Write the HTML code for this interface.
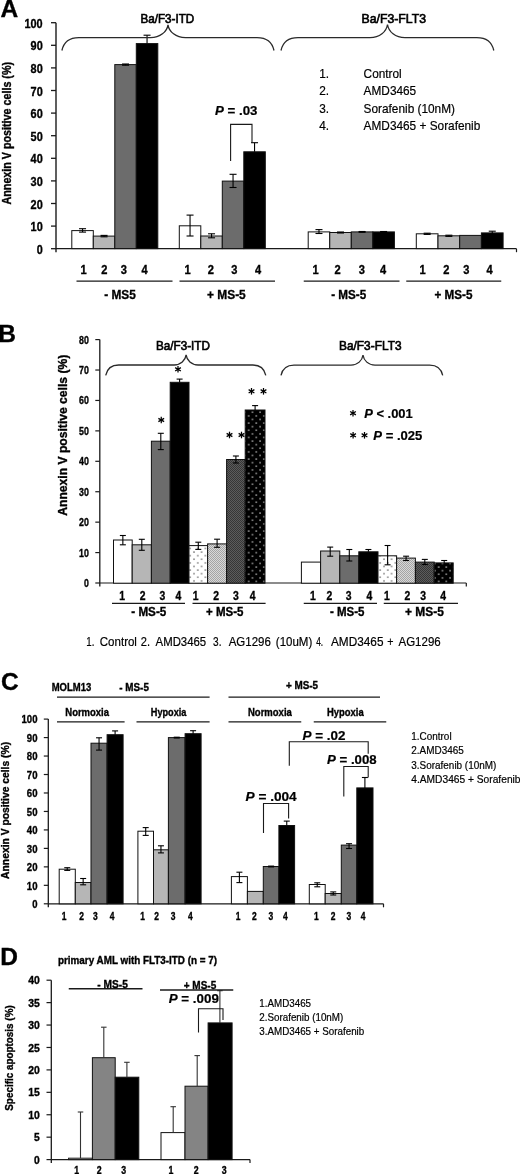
<!DOCTYPE html>
<html><head><meta charset="utf-8"><style>
html,body{margin:0;padding:0;background:#fff;}
body{width:520px;height:1174px;overflow:hidden;}
svg{display:block;font-family:"Liberation Sans", sans-serif;filter:grayscale(100%) blur(0.3px);}
</style></head><body>
<svg width="520" height="1174" viewBox="0 0 520 1174">
<defs>
<pattern id="pdot" width="7.6" height="7.2" patternUnits="userSpaceOnUse" x="189.2" y="547.5"><rect width="7.6" height="7.2" fill="#fff"/><rect x="0.2" y="0.2" width="1.6" height="1.6" fill="#8c8c8c"/><rect x="4.0" y="3.8" width="1.6" height="1.6" fill="#8c8c8c"/></pattern>
<pattern id="pfine" width="2" height="2" patternUnits="userSpaceOnUse"><rect width="2" height="2" fill="#d8d8d8"/><rect x="0" y="0" width="1" height="1" fill="#a4a4a4"/><rect x="1" y="1" width="1" height="1" fill="#a4a4a4"/></pattern>
<pattern id="pdark" width="2" height="2" patternUnits="userSpaceOnUse"><rect width="2" height="2" fill="#5c5c5c"/><rect x="0" y="0" width="1" height="1" fill="#363636"/><rect x="1" y="1" width="1" height="1" fill="#363636"/></pattern>
<pattern id="pblk" width="7.6" height="7.2" patternUnits="userSpaceOnUse" x="247.7" y="414.9"><rect width="7.6" height="7.2" fill="#000"/><rect x="0.2" y="0.2" width="1.6" height="1.6" fill="#8f8f8f"/><rect x="4.0" y="3.8" width="1.6" height="1.6" fill="#8f8f8f"/></pattern>
</defs>
<rect width="520" height="1174" fill="#fff"/>
<text x="0.50" y="17.40" font-size="24.5" font-weight="bold" text-anchor="start" fill="#000" stroke="#000" stroke-width="0.35" style="" >A</text>
<line x1="56.00" y1="22.70" x2="56.00" y2="252.20" stroke="#1a1a1a" stroke-width="1.4"/>
<line x1="51.00" y1="248.70" x2="56.00" y2="248.70" stroke="#1a1a1a" stroke-width="1.3"/>
<text x="36.64" y="253.78" font-size="13.3" font-weight="bold" text-anchor="start" textLength="6.02" lengthAdjust="spacingAndGlyphs" fill="#000" stroke="#000" stroke-width="0.35" style="" >0</text>
<line x1="51.00" y1="226.10" x2="56.00" y2="226.10" stroke="#1a1a1a" stroke-width="1.3"/>
<text x="30.57" y="231.18" font-size="13.3" font-weight="bold" text-anchor="start" textLength="12.15" lengthAdjust="spacingAndGlyphs" fill="#000" stroke="#000" stroke-width="0.35" style="" >10</text>
<line x1="51.00" y1="203.50" x2="56.00" y2="203.50" stroke="#1a1a1a" stroke-width="1.3"/>
<text x="30.57" y="208.58" font-size="13.3" font-weight="bold" text-anchor="start" textLength="12.15" lengthAdjust="spacingAndGlyphs" fill="#000" stroke="#000" stroke-width="0.35" style="" >20</text>
<line x1="51.00" y1="180.90" x2="56.00" y2="180.90" stroke="#1a1a1a" stroke-width="1.3"/>
<text x="30.57" y="185.98" font-size="13.3" font-weight="bold" text-anchor="start" textLength="12.15" lengthAdjust="spacingAndGlyphs" fill="#000" stroke="#000" stroke-width="0.35" style="" >30</text>
<line x1="51.00" y1="158.30" x2="56.00" y2="158.30" stroke="#1a1a1a" stroke-width="1.3"/>
<text x="30.57" y="163.38" font-size="13.3" font-weight="bold" text-anchor="start" textLength="12.15" lengthAdjust="spacingAndGlyphs" fill="#000" stroke="#000" stroke-width="0.35" style="" >40</text>
<line x1="51.00" y1="135.70" x2="56.00" y2="135.70" stroke="#1a1a1a" stroke-width="1.3"/>
<text x="30.57" y="140.78" font-size="13.3" font-weight="bold" text-anchor="start" textLength="12.15" lengthAdjust="spacingAndGlyphs" fill="#000" stroke="#000" stroke-width="0.35" style="" >50</text>
<line x1="51.00" y1="113.10" x2="56.00" y2="113.10" stroke="#1a1a1a" stroke-width="1.3"/>
<text x="30.57" y="118.18" font-size="13.3" font-weight="bold" text-anchor="start" textLength="12.15" lengthAdjust="spacingAndGlyphs" fill="#000" stroke="#000" stroke-width="0.35" style="" >60</text>
<line x1="51.00" y1="90.50" x2="56.00" y2="90.50" stroke="#1a1a1a" stroke-width="1.3"/>
<text x="30.57" y="95.58" font-size="13.3" font-weight="bold" text-anchor="start" textLength="12.15" lengthAdjust="spacingAndGlyphs" fill="#000" stroke="#000" stroke-width="0.35" style="" >70</text>
<line x1="51.00" y1="67.90" x2="56.00" y2="67.90" stroke="#1a1a1a" stroke-width="1.3"/>
<text x="30.57" y="72.98" font-size="13.3" font-weight="bold" text-anchor="start" textLength="12.15" lengthAdjust="spacingAndGlyphs" fill="#000" stroke="#000" stroke-width="0.35" style="" >80</text>
<line x1="51.00" y1="45.30" x2="56.00" y2="45.30" stroke="#1a1a1a" stroke-width="1.3"/>
<text x="30.57" y="50.38" font-size="13.3" font-weight="bold" text-anchor="start" textLength="12.15" lengthAdjust="spacingAndGlyphs" fill="#000" stroke="#000" stroke-width="0.35" style="" >90</text>
<line x1="51.00" y1="22.70" x2="56.00" y2="22.70" stroke="#1a1a1a" stroke-width="1.3"/>
<text x="24.51" y="27.78" font-size="13.3" font-weight="bold" text-anchor="start" textLength="18.18" lengthAdjust="spacingAndGlyphs" fill="#000" stroke="#000" stroke-width="0.35" style="" >100</text>
<text transform="translate(10.70,133.20) rotate(-90)" x="0" y="0" font-size="12.8" font-weight="bold" text-anchor="middle" textLength="142.50" lengthAdjust="spacingAndGlyphs" stroke="#000" stroke-width="0.35">Annexin V positive cells (%)</text>
<line x1="56.00" y1="248.70" x2="516.50" y2="248.70" stroke="#1a1a1a" stroke-width="1.3"/>
<line x1="516.50" y1="248.70" x2="516.50" y2="252.20" stroke="#1a1a1a" stroke-width="1.2"/>
<rect x="71.80" y="230.60" width="21.50" height="18.00" fill="#ffffff" stroke="#111" stroke-width="1.0" />
<rect x="93.30" y="236.10" width="21.50" height="12.50" fill="#b6b6b6" stroke="#111" stroke-width="1.0" />
<rect x="114.80" y="64.60" width="21.50" height="184.00" fill="#6c6c6c" stroke="#111" stroke-width="1.0" />
<rect x="136.30" y="43.60" width="21.50" height="205.00" fill="#000000" stroke="#111" stroke-width="1.0" />
<line x1="82.55" y1="228.70" x2="82.55" y2="232.10" stroke="#000" stroke-width="1.1"/>
<line x1="79.05" y1="228.70" x2="86.05" y2="228.70" stroke="#000" stroke-width="1.1"/>
<line x1="79.05" y1="232.10" x2="86.05" y2="232.10" stroke="#000" stroke-width="1.1"/>
<line x1="104.05" y1="235.40" x2="104.05" y2="236.80" stroke="#000" stroke-width="1.1"/>
<line x1="100.55" y1="235.40" x2="107.55" y2="235.40" stroke="#000" stroke-width="1.1"/>
<line x1="100.55" y1="236.80" x2="107.55" y2="236.80" stroke="#000" stroke-width="1.1"/>
<line x1="125.55" y1="64.00" x2="125.55" y2="65.20" stroke="#000" stroke-width="1.1"/>
<line x1="122.05" y1="64.00" x2="129.05" y2="64.00" stroke="#000" stroke-width="1.1"/>
<line x1="122.05" y1="65.20" x2="129.05" y2="65.20" stroke="#000" stroke-width="1.1"/>
<line x1="147.05" y1="35.20" x2="147.05" y2="43.60" stroke="#000" stroke-width="1.1"/>
<line x1="143.55" y1="35.20" x2="150.55" y2="35.20" stroke="#000" stroke-width="1.1"/>
<rect x="179.30" y="225.80" width="21.50" height="22.80" fill="#ffffff" stroke="#111" stroke-width="1.0" />
<rect x="200.80" y="236.00" width="21.50" height="12.60" fill="#b6b6b6" stroke="#111" stroke-width="1.0" />
<rect x="222.30" y="181.10" width="21.50" height="67.50" fill="#6c6c6c" stroke="#111" stroke-width="1.0" />
<rect x="243.80" y="151.80" width="21.50" height="96.80" fill="#000000" stroke="#111" stroke-width="1.0" />
<line x1="190.05" y1="215.10" x2="190.05" y2="236.00" stroke="#000" stroke-width="1.1"/>
<line x1="186.55" y1="215.10" x2="193.55" y2="215.10" stroke="#000" stroke-width="1.1"/>
<line x1="186.55" y1="236.00" x2="193.55" y2="236.00" stroke="#000" stroke-width="1.1"/>
<line x1="211.55" y1="233.80" x2="211.55" y2="237.80" stroke="#000" stroke-width="1.1"/>
<line x1="208.05" y1="233.80" x2="215.05" y2="233.80" stroke="#000" stroke-width="1.1"/>
<line x1="208.05" y1="237.80" x2="215.05" y2="237.80" stroke="#000" stroke-width="1.1"/>
<line x1="233.05" y1="174.30" x2="233.05" y2="187.50" stroke="#000" stroke-width="1.1"/>
<line x1="229.55" y1="174.30" x2="236.55" y2="174.30" stroke="#000" stroke-width="1.1"/>
<line x1="229.55" y1="187.50" x2="236.55" y2="187.50" stroke="#000" stroke-width="1.1"/>
<line x1="254.55" y1="142.70" x2="254.55" y2="151.80" stroke="#000" stroke-width="1.1"/>
<line x1="251.05" y1="142.70" x2="258.05" y2="142.70" stroke="#000" stroke-width="1.1"/>
<rect x="308.20" y="231.90" width="21.55" height="16.70" fill="#ffffff" stroke="#111" stroke-width="1.0" />
<rect x="329.75" y="232.50" width="21.55" height="16.10" fill="#b6b6b6" stroke="#111" stroke-width="1.0" />
<rect x="351.30" y="231.90" width="21.55" height="16.70" fill="#6c6c6c" stroke="#111" stroke-width="1.0" />
<rect x="372.85" y="231.90" width="21.55" height="16.70" fill="#000000" stroke="#111" stroke-width="1.0" />
<line x1="318.98" y1="229.60" x2="318.98" y2="233.50" stroke="#000" stroke-width="1.1"/>
<line x1="315.48" y1="229.60" x2="322.48" y2="229.60" stroke="#000" stroke-width="1.1"/>
<line x1="315.48" y1="233.50" x2="322.48" y2="233.50" stroke="#000" stroke-width="1.1"/>
<line x1="340.52" y1="232.00" x2="340.52" y2="233.00" stroke="#000" stroke-width="1.1"/>
<line x1="337.02" y1="232.00" x2="344.02" y2="232.00" stroke="#000" stroke-width="1.1"/>
<line x1="337.02" y1="233.00" x2="344.02" y2="233.00" stroke="#000" stroke-width="1.1"/>
<line x1="362.08" y1="231.50" x2="362.08" y2="232.30" stroke="#000" stroke-width="1.1"/>
<line x1="358.58" y1="231.50" x2="365.58" y2="231.50" stroke="#000" stroke-width="1.1"/>
<line x1="358.58" y1="232.30" x2="365.58" y2="232.30" stroke="#000" stroke-width="1.1"/>
<line x1="383.62" y1="231.50" x2="383.62" y2="232.30" stroke="#000" stroke-width="1.1"/>
<line x1="380.12" y1="231.50" x2="387.12" y2="231.50" stroke="#000" stroke-width="1.1"/>
<line x1="380.12" y1="232.30" x2="387.12" y2="232.30" stroke="#000" stroke-width="1.1"/>
<rect x="416.30" y="233.80" width="21.70" height="14.80" fill="#ffffff" stroke="#111" stroke-width="1.0" />
<rect x="438.00" y="235.80" width="21.70" height="12.80" fill="#b6b6b6" stroke="#111" stroke-width="1.0" />
<rect x="459.70" y="235.40" width="21.70" height="13.20" fill="#6c6c6c" stroke="#111" stroke-width="1.0" />
<rect x="481.40" y="232.90" width="21.70" height="15.70" fill="#000000" stroke="#111" stroke-width="1.0" />
<line x1="427.15" y1="233.20" x2="427.15" y2="234.40" stroke="#000" stroke-width="1.1"/>
<line x1="423.65" y1="233.20" x2="430.65" y2="233.20" stroke="#000" stroke-width="1.1"/>
<line x1="423.65" y1="234.40" x2="430.65" y2="234.40" stroke="#000" stroke-width="1.1"/>
<line x1="448.85" y1="235.20" x2="448.85" y2="236.40" stroke="#000" stroke-width="1.1"/>
<line x1="445.35" y1="235.20" x2="452.35" y2="235.20" stroke="#000" stroke-width="1.1"/>
<line x1="445.35" y1="236.40" x2="452.35" y2="236.40" stroke="#000" stroke-width="1.1"/>
<line x1="492.25" y1="231.20" x2="492.25" y2="234.60" stroke="#000" stroke-width="1.1"/>
<line x1="488.75" y1="231.20" x2="495.75" y2="231.20" stroke="#000" stroke-width="1.1"/>
<line x1="488.75" y1="234.60" x2="495.75" y2="234.60" stroke="#000" stroke-width="1.1"/>
<text x="80.42" y="273.60" font-size="12.3" font-weight="bold" text-anchor="start" textLength="6.16" lengthAdjust="spacingAndGlyphs" fill="#000" stroke="#000" stroke-width="0.35" style="" >1</text>
<text x="101.17" y="273.60" font-size="12.3" font-weight="bold" text-anchor="start" textLength="6.16" lengthAdjust="spacingAndGlyphs" fill="#000" stroke="#000" stroke-width="0.35" style="" >2</text>
<text x="120.82" y="273.60" font-size="12.3" font-weight="bold" text-anchor="start" textLength="6.16" lengthAdjust="spacingAndGlyphs" fill="#000" stroke="#000" stroke-width="0.35" style="" >3</text>
<text x="141.52" y="273.60" font-size="12.3" font-weight="bold" text-anchor="start" textLength="6.16" lengthAdjust="spacingAndGlyphs" fill="#000" stroke="#000" stroke-width="0.35" style="" >4</text>
<text x="184.42" y="273.60" font-size="12.3" font-weight="bold" text-anchor="start" textLength="6.16" lengthAdjust="spacingAndGlyphs" fill="#000" stroke="#000" stroke-width="0.35" style="" >1</text>
<text x="207.67" y="273.60" font-size="12.3" font-weight="bold" text-anchor="start" textLength="6.16" lengthAdjust="spacingAndGlyphs" fill="#000" stroke="#000" stroke-width="0.35" style="" >2</text>
<text x="231.17" y="273.60" font-size="12.3" font-weight="bold" text-anchor="start" textLength="6.16" lengthAdjust="spacingAndGlyphs" fill="#000" stroke="#000" stroke-width="0.35" style="" >3</text>
<text x="254.92" y="273.60" font-size="12.3" font-weight="bold" text-anchor="start" textLength="6.16" lengthAdjust="spacingAndGlyphs" fill="#000" stroke="#000" stroke-width="0.35" style="" >4</text>
<text x="312.42" y="273.60" font-size="12.3" font-weight="bold" text-anchor="start" textLength="6.16" lengthAdjust="spacingAndGlyphs" fill="#000" stroke="#000" stroke-width="0.35" style="" >1</text>
<text x="334.42" y="273.60" font-size="12.3" font-weight="bold" text-anchor="start" textLength="6.16" lengthAdjust="spacingAndGlyphs" fill="#000" stroke="#000" stroke-width="0.35" style="" >2</text>
<text x="358.67" y="273.60" font-size="12.3" font-weight="bold" text-anchor="start" textLength="6.16" lengthAdjust="spacingAndGlyphs" fill="#000" stroke="#000" stroke-width="0.35" style="" >3</text>
<text x="379.92" y="273.60" font-size="12.3" font-weight="bold" text-anchor="start" textLength="6.16" lengthAdjust="spacingAndGlyphs" fill="#000" stroke="#000" stroke-width="0.35" style="" >4</text>
<text x="419.42" y="273.60" font-size="12.3" font-weight="bold" text-anchor="start" textLength="6.16" lengthAdjust="spacingAndGlyphs" fill="#000" stroke="#000" stroke-width="0.35" style="" >1</text>
<text x="443.17" y="273.60" font-size="12.3" font-weight="bold" text-anchor="start" textLength="6.16" lengthAdjust="spacingAndGlyphs" fill="#000" stroke="#000" stroke-width="0.35" style="" >2</text>
<text x="463.17" y="273.60" font-size="12.3" font-weight="bold" text-anchor="start" textLength="6.16" lengthAdjust="spacingAndGlyphs" fill="#000" stroke="#000" stroke-width="0.35" style="" >3</text>
<text x="486.42" y="273.60" font-size="12.3" font-weight="bold" text-anchor="start" textLength="6.16" lengthAdjust="spacingAndGlyphs" fill="#000" stroke="#000" stroke-width="0.35" style="" >4</text>
<line x1="76.50" y1="281.10" x2="172.50" y2="281.10" stroke="#1a1a1a" stroke-width="1.4"/>
<line x1="179.50" y1="281.10" x2="275.00" y2="281.10" stroke="#1a1a1a" stroke-width="1.4"/>
<line x1="303.75" y1="281.10" x2="399.50" y2="281.10" stroke="#1a1a1a" stroke-width="1.4"/>
<line x1="406.25" y1="281.10" x2="501.25" y2="281.10" stroke="#1a1a1a" stroke-width="1.4"/>
<text x="104.20" y="298.70" font-size="12.8" font-weight="bold" text-anchor="start" textLength="31.56" lengthAdjust="spacingAndGlyphs" fill="#000" stroke="#000" stroke-width="0.35" style="" >- MS5</text>
<text x="207.00" y="298.70" font-size="12.8" font-weight="bold" text-anchor="start" textLength="38.76" lengthAdjust="spacingAndGlyphs" fill="#000" stroke="#000" stroke-width="0.35" style="" >+ MS-5</text>
<text x="331.25" y="298.70" font-size="12.8" font-weight="bold" text-anchor="start" textLength="35.00" lengthAdjust="spacingAndGlyphs" fill="#000" stroke="#000" stroke-width="0.35" style="" >- MS-5</text>
<text x="434.50" y="298.70" font-size="12.8" font-weight="bold" text-anchor="start" textLength="38.01" lengthAdjust="spacingAndGlyphs" fill="#000" stroke="#000" stroke-width="0.35" style="" >+ MS-5</text>
<path d="M61.9,50.5 C63.6,42.760000000000005 68.7,37.6 78.9,37.6 L150.5,37.6 C160.125,37.6 166.95,31.84 168,24.8 C169.05,31.84 175.875,37.6 185.5,37.6 L257,37.6 C267.2,37.6 272.3,42.760000000000005 274,50.5" stroke="#2a2a2a" stroke-width="1.3" fill="none" stroke-linejoin="miter"/>
<path d="M281,50.5 C282.7,42.82 287.8,37.7 298,37.7 L370.0,37.7 C379.625,37.7 386.45,31.76 387.5,24.5 C388.55,31.76 395.375,37.7 405.0,37.7 L476.8,37.7 C487.0,37.7 492.1,42.82 493.8,50.5" stroke="#2a2a2a" stroke-width="1.3" fill="none" stroke-linejoin="miter"/>
<text x="140.40" y="22.70" font-size="12.6" font-weight="normal" text-anchor="start" textLength="53.82" lengthAdjust="spacingAndGlyphs" fill="#000" stroke="#000" stroke-width="0.65" style="" >Ba/F3-ITD</text>
<text x="361.50" y="22.80" font-size="12.6" font-weight="normal" text-anchor="start" textLength="64.50" lengthAdjust="spacingAndGlyphs" fill="#000" stroke="#000" stroke-width="0.65" style="" >Ba/F3-FLT3</text>
<text x="319.20" y="78.20" font-size="13" font-weight="normal" text-anchor="start" textLength="9.87" lengthAdjust="spacingAndGlyphs" fill="#000" stroke="#000" stroke-width="0.2" style="" >1.</text>
<text x="363.60" y="78.20" font-size="13" font-weight="normal" text-anchor="start" textLength="38.13" lengthAdjust="spacingAndGlyphs" fill="#000" stroke="#000" stroke-width="0.2" style="" >Control</text>
<text x="319.20" y="95.20" font-size="13" font-weight="normal" text-anchor="start" textLength="9.87" lengthAdjust="spacingAndGlyphs" fill="#000" stroke="#000" stroke-width="0.2" style="" >2.</text>
<text x="363.60" y="95.20" font-size="13" font-weight="normal" text-anchor="start" textLength="52.60" lengthAdjust="spacingAndGlyphs" fill="#000" stroke="#000" stroke-width="0.2" style="" >AMD3465</text>
<text x="319.20" y="112.60" font-size="13" font-weight="normal" text-anchor="start" textLength="9.87" lengthAdjust="spacingAndGlyphs" fill="#000" stroke="#000" stroke-width="0.2" style="" >3.</text>
<text x="363.60" y="112.60" font-size="13" font-weight="normal" text-anchor="start" textLength="91.39" lengthAdjust="spacingAndGlyphs" fill="#000" stroke="#000" stroke-width="0.2" style="" >Sorafenib (10nM)</text>
<text x="319.20" y="129.60" font-size="13" font-weight="normal" text-anchor="start" textLength="9.87" lengthAdjust="spacingAndGlyphs" fill="#000" stroke="#000" stroke-width="0.2" style="" >4.</text>
<text x="363.60" y="129.60" font-size="13" font-weight="normal" text-anchor="start" textLength="116.72" lengthAdjust="spacingAndGlyphs" fill="#000" stroke="#000" stroke-width="0.2" style="" >AMD3465 + Sorafenib</text>
<text x="215.00" y="115.20" font-size="13" font-weight="bold" text-anchor="start" textLength="42.48" lengthAdjust="spacingAndGlyphs" fill="#000" stroke="#000" stroke-width="0.2" style="" ><tspan font-style="italic">P</tspan> = .03</text>
<path d="M230.6,161 L230.6,124.4 L252,124.4 L252,143" stroke="#1a1a1a" stroke-width="1.1" fill="none" stroke-linejoin="miter"/>
<text x="-1.80" y="341.50" font-size="24.5" font-weight="bold" text-anchor="start" fill="#000" stroke="#000" stroke-width="0.35" style="" >B</text>
<line x1="99.80" y1="339.60" x2="99.80" y2="586.50" stroke="#1a1a1a" stroke-width="1.3"/>
<line x1="95.30" y1="583.00" x2="99.80" y2="583.00" stroke="#1a1a1a" stroke-width="1.2"/>
<text x="83.91" y="586.98" font-size="11" font-weight="bold" text-anchor="start" textLength="4.86" lengthAdjust="spacingAndGlyphs" fill="#000" stroke="#000" stroke-width="0.35" style="" >0</text>
<line x1="95.30" y1="552.58" x2="99.80" y2="552.58" stroke="#1a1a1a" stroke-width="1.2"/>
<text x="79.01" y="556.56" font-size="11" font-weight="bold" text-anchor="start" textLength="9.81" lengthAdjust="spacingAndGlyphs" fill="#000" stroke="#000" stroke-width="0.35" style="" >10</text>
<line x1="95.30" y1="522.15" x2="99.80" y2="522.15" stroke="#1a1a1a" stroke-width="1.2"/>
<text x="79.01" y="526.13" font-size="11" font-weight="bold" text-anchor="start" textLength="9.81" lengthAdjust="spacingAndGlyphs" fill="#000" stroke="#000" stroke-width="0.35" style="" >20</text>
<line x1="95.30" y1="491.73" x2="99.80" y2="491.73" stroke="#1a1a1a" stroke-width="1.2"/>
<text x="79.01" y="495.71" font-size="11" font-weight="bold" text-anchor="start" textLength="9.81" lengthAdjust="spacingAndGlyphs" fill="#000" stroke="#000" stroke-width="0.35" style="" >30</text>
<line x1="95.30" y1="461.30" x2="99.80" y2="461.30" stroke="#1a1a1a" stroke-width="1.2"/>
<text x="79.01" y="465.28" font-size="11" font-weight="bold" text-anchor="start" textLength="9.81" lengthAdjust="spacingAndGlyphs" fill="#000" stroke="#000" stroke-width="0.35" style="" >40</text>
<line x1="95.30" y1="430.88" x2="99.80" y2="430.88" stroke="#1a1a1a" stroke-width="1.2"/>
<text x="79.01" y="434.86" font-size="11" font-weight="bold" text-anchor="start" textLength="9.81" lengthAdjust="spacingAndGlyphs" fill="#000" stroke="#000" stroke-width="0.35" style="" >50</text>
<line x1="95.30" y1="400.45" x2="99.80" y2="400.45" stroke="#1a1a1a" stroke-width="1.2"/>
<text x="79.01" y="404.43" font-size="11" font-weight="bold" text-anchor="start" textLength="9.81" lengthAdjust="spacingAndGlyphs" fill="#000" stroke="#000" stroke-width="0.35" style="" >60</text>
<line x1="95.30" y1="370.03" x2="99.80" y2="370.03" stroke="#1a1a1a" stroke-width="1.2"/>
<text x="79.01" y="374.01" font-size="11" font-weight="bold" text-anchor="start" textLength="9.81" lengthAdjust="spacingAndGlyphs" fill="#000" stroke="#000" stroke-width="0.35" style="" >70</text>
<line x1="95.30" y1="339.60" x2="99.80" y2="339.60" stroke="#1a1a1a" stroke-width="1.2"/>
<text x="79.01" y="343.58" font-size="11" font-weight="bold" text-anchor="start" textLength="9.81" lengthAdjust="spacingAndGlyphs" fill="#000" stroke="#000" stroke-width="0.35" style="" >80</text>
<text transform="translate(67.00,435.20) rotate(-90)" x="0" y="0" font-size="13.2" font-weight="bold" text-anchor="middle" textLength="161.00" lengthAdjust="spacingAndGlyphs" stroke="#000" stroke-width="0.35">Annexin V positive cells (%)</text>
<line x1="99.80" y1="583.00" x2="466.30" y2="583.00" stroke="#1a1a1a" stroke-width="1.2"/>
<line x1="466.30" y1="583.00" x2="466.30" y2="586.50" stroke="#1a1a1a" stroke-width="1.2"/>
<rect x="113.50" y="540.00" width="18.70" height="43.20" fill="#ffffff" stroke="#111" stroke-width="1.0" />
<rect x="132.20" y="544.80" width="19.20" height="38.40" fill="#b6b6b6" stroke="#111" stroke-width="1.0" />
<rect x="151.40" y="441.20" width="18.80" height="142.00" fill="#6c6c6c" stroke="#111" stroke-width="1.0" />
<rect x="170.20" y="382.30" width="18.80" height="200.90" fill="#000000" stroke="#111" stroke-width="1.0" />
<rect x="189.00" y="545.60" width="18.60" height="37.60" fill="url(#pdot)" stroke="#111" stroke-width="1.0" />
<rect x="207.60" y="543.90" width="19.00" height="39.30" fill="url(#pfine)" stroke="#111" stroke-width="1.0" />
<rect x="226.60" y="459.50" width="18.60" height="123.70" fill="url(#pdark)" stroke="#111" stroke-width="1.0" />
<rect x="245.20" y="410.00" width="19.80" height="173.20" fill="url(#pblk)" stroke="#111" stroke-width="1.0" />
<line x1="122.85" y1="535.50" x2="122.85" y2="544.80" stroke="#000" stroke-width="1.1"/>
<line x1="119.85" y1="535.50" x2="125.85" y2="535.50" stroke="#000" stroke-width="1.1"/>
<line x1="119.85" y1="544.80" x2="125.85" y2="544.80" stroke="#000" stroke-width="1.1"/>
<line x1="141.80" y1="539.30" x2="141.80" y2="550.30" stroke="#000" stroke-width="1.1"/>
<line x1="138.80" y1="539.30" x2="144.80" y2="539.30" stroke="#000" stroke-width="1.1"/>
<line x1="138.80" y1="550.30" x2="144.80" y2="550.30" stroke="#000" stroke-width="1.1"/>
<line x1="160.80" y1="433.30" x2="160.80" y2="449.60" stroke="#000" stroke-width="1.1"/>
<line x1="157.80" y1="433.30" x2="163.80" y2="433.30" stroke="#000" stroke-width="1.1"/>
<line x1="157.80" y1="449.60" x2="163.80" y2="449.60" stroke="#000" stroke-width="1.1"/>
<line x1="179.60" y1="379.10" x2="179.60" y2="382.30" stroke="#000" stroke-width="1.1"/>
<line x1="176.60" y1="379.10" x2="182.60" y2="379.10" stroke="#000" stroke-width="1.1"/>
<line x1="198.30" y1="542.20" x2="198.30" y2="549.40" stroke="#000" stroke-width="1.1"/>
<line x1="195.30" y1="542.20" x2="201.30" y2="542.20" stroke="#000" stroke-width="1.1"/>
<line x1="195.30" y1="549.40" x2="201.30" y2="549.40" stroke="#000" stroke-width="1.1"/>
<line x1="217.10" y1="539.20" x2="217.10" y2="547.30" stroke="#000" stroke-width="1.1"/>
<line x1="214.10" y1="539.20" x2="220.10" y2="539.20" stroke="#000" stroke-width="1.1"/>
<line x1="214.10" y1="547.30" x2="220.10" y2="547.30" stroke="#000" stroke-width="1.1"/>
<line x1="235.90" y1="456.00" x2="235.90" y2="463.00" stroke="#000" stroke-width="1.1"/>
<line x1="232.90" y1="456.00" x2="238.90" y2="456.00" stroke="#000" stroke-width="1.1"/>
<line x1="232.90" y1="463.00" x2="238.90" y2="463.00" stroke="#000" stroke-width="1.1"/>
<line x1="255.10" y1="405.60" x2="255.10" y2="410.00" stroke="#000" stroke-width="1.1"/>
<line x1="252.10" y1="405.60" x2="258.10" y2="405.60" stroke="#000" stroke-width="1.1"/>
<rect x="301.40" y="562.10" width="19.20" height="21.10" fill="#ffffff" stroke="#111" stroke-width="1.0" />
<rect x="320.60" y="551.00" width="19.20" height="32.20" fill="#b6b6b6" stroke="#111" stroke-width="1.0" />
<rect x="339.80" y="555.80" width="19.00" height="27.40" fill="#6c6c6c" stroke="#111" stroke-width="1.0" />
<rect x="358.80" y="551.80" width="19.20" height="31.40" fill="#000000" stroke="#111" stroke-width="1.0" />
<rect x="378.00" y="555.80" width="18.60" height="27.40" fill="url(#pdot)" stroke="#111" stroke-width="1.0" />
<rect x="396.60" y="558.10" width="18.80" height="25.10" fill="url(#pfine)" stroke="#111" stroke-width="1.0" />
<rect x="415.40" y="562.10" width="18.80" height="21.10" fill="url(#pdark)" stroke="#111" stroke-width="1.0" />
<rect x="434.20" y="562.90" width="19.00" height="20.30" fill="url(#pblk)" stroke="#111" stroke-width="1.0" />
<line x1="330.20" y1="547.10" x2="330.20" y2="556.20" stroke="#000" stroke-width="1.1"/>
<line x1="327.20" y1="547.10" x2="333.20" y2="547.10" stroke="#000" stroke-width="1.1"/>
<line x1="327.20" y1="556.20" x2="333.20" y2="556.20" stroke="#000" stroke-width="1.1"/>
<line x1="349.30" y1="549.50" x2="349.30" y2="561.00" stroke="#000" stroke-width="1.1"/>
<line x1="346.30" y1="549.50" x2="352.30" y2="549.50" stroke="#000" stroke-width="1.1"/>
<line x1="346.30" y1="561.00" x2="352.30" y2="561.00" stroke="#000" stroke-width="1.1"/>
<line x1="368.40" y1="549.50" x2="368.40" y2="551.80" stroke="#000" stroke-width="1.1"/>
<line x1="365.40" y1="549.50" x2="371.40" y2="549.50" stroke="#000" stroke-width="1.1"/>
<line x1="387.60" y1="545.50" x2="387.60" y2="564.80" stroke="#000" stroke-width="1.1"/>
<line x1="384.60" y1="545.50" x2="390.60" y2="545.50" stroke="#000" stroke-width="1.1"/>
<line x1="384.60" y1="564.80" x2="390.60" y2="564.80" stroke="#000" stroke-width="1.1"/>
<line x1="406.10" y1="556.20" x2="406.10" y2="560.50" stroke="#000" stroke-width="1.1"/>
<line x1="403.10" y1="556.20" x2="409.10" y2="556.20" stroke="#000" stroke-width="1.1"/>
<line x1="403.10" y1="560.50" x2="409.10" y2="560.50" stroke="#000" stroke-width="1.1"/>
<line x1="424.80" y1="559.40" x2="424.80" y2="564.50" stroke="#000" stroke-width="1.1"/>
<line x1="421.80" y1="559.40" x2="427.80" y2="559.40" stroke="#000" stroke-width="1.1"/>
<line x1="421.80" y1="564.50" x2="427.80" y2="564.50" stroke="#000" stroke-width="1.1"/>
<line x1="444.20" y1="560.50" x2="444.20" y2="562.90" stroke="#000" stroke-width="1.1"/>
<line x1="441.20" y1="560.50" x2="447.20" y2="560.50" stroke="#000" stroke-width="1.1"/>
<text x="119.32" y="599.70" font-size="12.2" font-weight="bold" text-anchor="start" textLength="5.77" lengthAdjust="spacingAndGlyphs" fill="#000" stroke="#000" stroke-width="0.35" style="" >1</text>
<text x="139.72" y="599.70" font-size="12.2" font-weight="bold" text-anchor="start" textLength="5.77" lengthAdjust="spacingAndGlyphs" fill="#000" stroke="#000" stroke-width="0.35" style="" >2</text>
<text x="159.42" y="599.70" font-size="12.2" font-weight="bold" text-anchor="start" textLength="5.77" lengthAdjust="spacingAndGlyphs" fill="#000" stroke="#000" stroke-width="0.35" style="" >3</text>
<text x="175.42" y="599.70" font-size="12.2" font-weight="bold" text-anchor="start" textLength="5.77" lengthAdjust="spacingAndGlyphs" fill="#000" stroke="#000" stroke-width="0.35" style="" >4</text>
<text x="192.72" y="599.70" font-size="12.2" font-weight="bold" text-anchor="start" textLength="5.77" lengthAdjust="spacingAndGlyphs" fill="#000" stroke="#000" stroke-width="0.35" style="" >1</text>
<text x="213.32" y="599.70" font-size="12.2" font-weight="bold" text-anchor="start" textLength="5.77" lengthAdjust="spacingAndGlyphs" fill="#000" stroke="#000" stroke-width="0.35" style="" >2</text>
<text x="232.92" y="599.70" font-size="12.2" font-weight="bold" text-anchor="start" textLength="5.77" lengthAdjust="spacingAndGlyphs" fill="#000" stroke="#000" stroke-width="0.35" style="" >3</text>
<text x="249.82" y="599.70" font-size="12.2" font-weight="bold" text-anchor="start" textLength="5.77" lengthAdjust="spacingAndGlyphs" fill="#000" stroke="#000" stroke-width="0.35" style="" >4</text>
<text x="310.12" y="599.70" font-size="12.2" font-weight="bold" text-anchor="start" textLength="5.77" lengthAdjust="spacingAndGlyphs" fill="#000" stroke="#000" stroke-width="0.35" style="" >1</text>
<text x="326.62" y="599.70" font-size="12.2" font-weight="bold" text-anchor="start" textLength="5.77" lengthAdjust="spacingAndGlyphs" fill="#000" stroke="#000" stroke-width="0.35" style="" >2</text>
<text x="345.87" y="599.70" font-size="12.2" font-weight="bold" text-anchor="start" textLength="5.77" lengthAdjust="spacingAndGlyphs" fill="#000" stroke="#000" stroke-width="0.35" style="" >3</text>
<text x="366.62" y="599.70" font-size="12.2" font-weight="bold" text-anchor="start" textLength="5.77" lengthAdjust="spacingAndGlyphs" fill="#000" stroke="#000" stroke-width="0.35" style="" >4</text>
<text x="384.12" y="599.70" font-size="12.2" font-weight="bold" text-anchor="start" textLength="5.77" lengthAdjust="spacingAndGlyphs" fill="#000" stroke="#000" stroke-width="0.35" style="" >1</text>
<text x="404.62" y="599.70" font-size="12.2" font-weight="bold" text-anchor="start" textLength="5.77" lengthAdjust="spacingAndGlyphs" fill="#000" stroke="#000" stroke-width="0.35" style="" >2</text>
<text x="420.37" y="599.70" font-size="12.2" font-weight="bold" text-anchor="start" textLength="5.77" lengthAdjust="spacingAndGlyphs" fill="#000" stroke="#000" stroke-width="0.35" style="" >3</text>
<text x="440.37" y="599.70" font-size="12.2" font-weight="bold" text-anchor="start" textLength="5.77" lengthAdjust="spacingAndGlyphs" fill="#000" stroke="#000" stroke-width="0.35" style="" >4</text>
<line x1="112.00" y1="603.40" x2="185.00" y2="603.40" stroke="#1a1a1a" stroke-width="1.4"/>
<line x1="192.50" y1="603.40" x2="265.60" y2="603.40" stroke="#1a1a1a" stroke-width="1.4"/>
<line x1="303.75" y1="603.40" x2="377.00" y2="603.40" stroke="#1a1a1a" stroke-width="1.4"/>
<line x1="383.75" y1="603.40" x2="458.00" y2="603.40" stroke="#1a1a1a" stroke-width="1.4"/>
<text x="131.25" y="616.30" font-size="12.2" font-weight="bold" text-anchor="start" textLength="35.00" lengthAdjust="spacingAndGlyphs" fill="#000" stroke="#000" stroke-width="0.35" style="" >- MS-5</text>
<text x="206.00" y="616.30" font-size="12.2" font-weight="bold" text-anchor="start" textLength="37.51" lengthAdjust="spacingAndGlyphs" fill="#000" stroke="#000" stroke-width="0.35" style="" >+ MS-5</text>
<text x="330.00" y="616.30" font-size="12.2" font-weight="bold" text-anchor="start" textLength="34.50" lengthAdjust="spacingAndGlyphs" fill="#000" stroke="#000" stroke-width="0.35" style="" >- MS-5</text>
<text x="405.00" y="616.30" font-size="12.2" font-weight="bold" text-anchor="start" textLength="38.76" lengthAdjust="spacingAndGlyphs" fill="#000" stroke="#000" stroke-width="0.35" style="" >+ MS-5</text>
<path d="M105.7,375.4 C107.0,369.15999999999997 110.9,365 118.7,365 L174.1,365 C180.7,365 185.38,360.455 186.1,354.9 C186.82,360.455 191.5,365 198.1,365 L252.8,365 C260.6,365 264.5,369.15999999999997 265.8,375.4" stroke="#2a2a2a" stroke-width="1.3" fill="none" stroke-linejoin="miter"/>
<path d="M281,375.4 C282.3,369.22 286.2,365.1 294,365.1 L351,365.1 C357.6,365.1 362.28,360.555 363,355 C363.72,360.555 368.4,365.1 375,365.1 L429.7,365.1 C437.5,365.1 441.4,369.22 442.7,375.4" stroke="#2a2a2a" stroke-width="1.3" fill="none" stroke-linejoin="miter"/>
<text x="156.00" y="349.70" font-size="12.4" font-weight="normal" text-anchor="start" textLength="53.92" lengthAdjust="spacingAndGlyphs" fill="#000" stroke="#000" stroke-width="0.65" style="" >Ba/F3-ITD</text>
<text x="339.00" y="350.00" font-size="12.6" font-weight="normal" text-anchor="start" textLength="62.50" lengthAdjust="spacingAndGlyphs" fill="#000" stroke="#000" stroke-width="0.65" style="" >Ba/F3-FLT3</text>
<line x1="161.25" y1="416.70" x2="161.25" y2="423.30" stroke="#000" stroke-width="1.25"/>
<line x1="158.39" y1="418.35" x2="164.11" y2="421.65" stroke="#000" stroke-width="1.25"/>
<line x1="164.11" y1="418.35" x2="158.39" y2="421.65" stroke="#000" stroke-width="1.25"/>
<circle cx="161.25" cy="420.00" r="1.1" fill="#000"/>
<line x1="178.00" y1="366.00" x2="178.00" y2="372.60" stroke="#000" stroke-width="1.25"/>
<line x1="175.14" y1="367.65" x2="180.86" y2="370.95" stroke="#000" stroke-width="1.25"/>
<line x1="180.86" y1="367.65" x2="175.14" y2="370.95" stroke="#000" stroke-width="1.25"/>
<circle cx="178.00" cy="369.30" r="1.1" fill="#000"/>
<line x1="229.50" y1="431.70" x2="229.50" y2="438.30" stroke="#000" stroke-width="1.25"/>
<line x1="226.64" y1="433.35" x2="232.36" y2="436.65" stroke="#000" stroke-width="1.25"/>
<line x1="232.36" y1="433.35" x2="226.64" y2="436.65" stroke="#000" stroke-width="1.25"/>
<circle cx="229.50" cy="435.00" r="1.1" fill="#000"/>
<line x1="241.50" y1="431.70" x2="241.50" y2="438.30" stroke="#000" stroke-width="1.25"/>
<line x1="238.64" y1="433.35" x2="244.36" y2="436.65" stroke="#000" stroke-width="1.25"/>
<line x1="244.36" y1="433.35" x2="238.64" y2="436.65" stroke="#000" stroke-width="1.25"/>
<circle cx="241.50" cy="435.00" r="1.1" fill="#000"/>
<line x1="251.50" y1="388.00" x2="251.50" y2="394.60" stroke="#000" stroke-width="1.25"/>
<line x1="248.64" y1="389.65" x2="254.36" y2="392.95" stroke="#000" stroke-width="1.25"/>
<line x1="254.36" y1="389.65" x2="248.64" y2="392.95" stroke="#000" stroke-width="1.25"/>
<circle cx="251.50" cy="391.30" r="1.1" fill="#000"/>
<line x1="263.50" y1="388.00" x2="263.50" y2="394.60" stroke="#000" stroke-width="1.25"/>
<line x1="260.64" y1="389.65" x2="266.36" y2="392.95" stroke="#000" stroke-width="1.25"/>
<line x1="266.36" y1="389.65" x2="260.64" y2="392.95" stroke="#000" stroke-width="1.25"/>
<circle cx="263.50" cy="391.30" r="1.1" fill="#000"/>
<line x1="353.00" y1="409.90" x2="353.00" y2="416.50" stroke="#000" stroke-width="1.25"/>
<line x1="350.14" y1="411.55" x2="355.86" y2="414.85" stroke="#000" stroke-width="1.25"/>
<line x1="355.86" y1="411.55" x2="350.14" y2="414.85" stroke="#000" stroke-width="1.25"/>
<circle cx="353.00" cy="413.20" r="1.1" fill="#000"/>
<text x="364.20" y="417.60" font-size="13" font-weight="bold" text-anchor="start" textLength="48.56" lengthAdjust="spacingAndGlyphs" fill="#000" stroke="#000" stroke-width="0.2" style="" ><tspan font-style="italic">P</tspan> &lt; .001</text>
<line x1="353.10" y1="432.00" x2="353.10" y2="438.60" stroke="#000" stroke-width="1.25"/>
<line x1="350.24" y1="433.65" x2="355.96" y2="436.95" stroke="#000" stroke-width="1.25"/>
<line x1="355.96" y1="433.65" x2="350.24" y2="436.95" stroke="#000" stroke-width="1.25"/>
<circle cx="353.10" cy="435.30" r="1.1" fill="#000"/>
<line x1="364.50" y1="432.00" x2="364.50" y2="438.60" stroke="#000" stroke-width="1.25"/>
<line x1="361.64" y1="433.65" x2="367.36" y2="436.95" stroke="#000" stroke-width="1.25"/>
<line x1="367.36" y1="433.65" x2="361.64" y2="436.95" stroke="#000" stroke-width="1.25"/>
<circle cx="364.50" cy="435.30" r="1.1" fill="#000"/>
<text x="373.30" y="439.80" font-size="13" font-weight="bold" text-anchor="start" textLength="49.06" lengthAdjust="spacingAndGlyphs" fill="#000" stroke="#000" stroke-width="0.2" style="" ><tspan font-style="italic">P</tspan> = .025</text>
<text x="86.30" y="645.50" font-size="12.8" font-weight="normal" text-anchor="start" textLength="8.14" lengthAdjust="spacingAndGlyphs" fill="#000" stroke="#000" stroke-width="0.2" style="" >1.</text>
<text x="99.80" y="645.50" font-size="12.8" font-weight="normal" text-anchor="start" textLength="37.14" lengthAdjust="spacingAndGlyphs" fill="#000" stroke="#000" stroke-width="0.2" style="" >Control</text>
<text x="140.80" y="645.50" font-size="12.8" font-weight="normal" text-anchor="start" textLength="9.24" lengthAdjust="spacingAndGlyphs" fill="#000" stroke="#000" stroke-width="0.2" style="" >2.</text>
<text x="155.60" y="645.50" font-size="12.8" font-weight="normal" text-anchor="start" textLength="50.56" lengthAdjust="spacingAndGlyphs" fill="#000" stroke="#000" stroke-width="0.2" style="" >AMD3465</text>
<text x="213.10" y="645.50" font-size="12.8" font-weight="normal" text-anchor="start" textLength="8.44" lengthAdjust="spacingAndGlyphs" fill="#000" stroke="#000" stroke-width="0.2" style="" >3.</text>
<text x="228.70" y="645.50" font-size="12.8" font-weight="normal" text-anchor="start" textLength="42.09" lengthAdjust="spacingAndGlyphs" fill="#000" stroke="#000" stroke-width="0.2" style="" >AG1296</text>
<text x="275.80" y="645.50" font-size="12.8" font-weight="normal" text-anchor="start" textLength="36.47" lengthAdjust="spacingAndGlyphs" fill="#000" stroke="#000" stroke-width="0.2" style="" >(10uM)</text>
<text x="316.20" y="645.50" font-size="12.8" font-weight="normal" text-anchor="start" textLength="6.93" lengthAdjust="spacingAndGlyphs" fill="#000" stroke="#000" stroke-width="0.2" style="" >4.</text>
<text x="331.00" y="645.50" font-size="12.8" font-weight="normal" text-anchor="start" textLength="52.46" lengthAdjust="spacingAndGlyphs" fill="#000" stroke="#000" stroke-width="0.2" style="" >AMD3465</text>
<text x="387.30" y="645.50" font-size="12.8" font-weight="normal" text-anchor="start" textLength="6.24" lengthAdjust="spacingAndGlyphs" fill="#000" stroke="#000" stroke-width="0.2" style="" >+</text>
<text x="398.50" y="645.50" font-size="12.8" font-weight="normal" text-anchor="start" textLength="42.19" lengthAdjust="spacingAndGlyphs" fill="#000" stroke="#000" stroke-width="0.2" style="" >AG1296</text>
<text x="0.90" y="690.10" font-size="24.5" font-weight="bold" text-anchor="start" fill="#000" stroke="#000" stroke-width="0.35" style="" >C</text>
<line x1="48.30" y1="719.10" x2="48.30" y2="907.30" stroke="#1a1a1a" stroke-width="1.3"/>
<line x1="43.80" y1="903.80" x2="48.30" y2="903.80" stroke="#1a1a1a" stroke-width="1.2"/>
<text x="32.18" y="907.98" font-size="11" font-weight="bold" text-anchor="start" textLength="5.28" lengthAdjust="spacingAndGlyphs" fill="#000" stroke="#000" stroke-width="0.35" style="" >0</text>
<line x1="43.80" y1="885.33" x2="48.30" y2="885.33" stroke="#1a1a1a" stroke-width="1.2"/>
<text x="26.86" y="889.51" font-size="11" font-weight="bold" text-anchor="start" textLength="10.66" lengthAdjust="spacingAndGlyphs" fill="#000" stroke="#000" stroke-width="0.35" style="" >10</text>
<line x1="43.80" y1="866.86" x2="48.30" y2="866.86" stroke="#1a1a1a" stroke-width="1.2"/>
<text x="26.86" y="871.04" font-size="11" font-weight="bold" text-anchor="start" textLength="10.66" lengthAdjust="spacingAndGlyphs" fill="#000" stroke="#000" stroke-width="0.35" style="" >20</text>
<line x1="43.80" y1="848.39" x2="48.30" y2="848.39" stroke="#1a1a1a" stroke-width="1.2"/>
<text x="26.86" y="852.57" font-size="11" font-weight="bold" text-anchor="start" textLength="10.66" lengthAdjust="spacingAndGlyphs" fill="#000" stroke="#000" stroke-width="0.35" style="" >30</text>
<line x1="43.80" y1="829.92" x2="48.30" y2="829.92" stroke="#1a1a1a" stroke-width="1.2"/>
<text x="26.86" y="834.10" font-size="11" font-weight="bold" text-anchor="start" textLength="10.66" lengthAdjust="spacingAndGlyphs" fill="#000" stroke="#000" stroke-width="0.35" style="" >40</text>
<line x1="43.80" y1="811.45" x2="48.30" y2="811.45" stroke="#1a1a1a" stroke-width="1.2"/>
<text x="26.86" y="815.63" font-size="11" font-weight="bold" text-anchor="start" textLength="10.66" lengthAdjust="spacingAndGlyphs" fill="#000" stroke="#000" stroke-width="0.35" style="" >50</text>
<line x1="43.80" y1="792.98" x2="48.30" y2="792.98" stroke="#1a1a1a" stroke-width="1.2"/>
<text x="26.86" y="797.16" font-size="11" font-weight="bold" text-anchor="start" textLength="10.66" lengthAdjust="spacingAndGlyphs" fill="#000" stroke="#000" stroke-width="0.35" style="" >60</text>
<line x1="43.80" y1="774.51" x2="48.30" y2="774.51" stroke="#1a1a1a" stroke-width="1.2"/>
<text x="26.86" y="778.69" font-size="11" font-weight="bold" text-anchor="start" textLength="10.66" lengthAdjust="spacingAndGlyphs" fill="#000" stroke="#000" stroke-width="0.35" style="" >70</text>
<line x1="43.80" y1="756.04" x2="48.30" y2="756.04" stroke="#1a1a1a" stroke-width="1.2"/>
<text x="26.86" y="760.22" font-size="11" font-weight="bold" text-anchor="start" textLength="10.66" lengthAdjust="spacingAndGlyphs" fill="#000" stroke="#000" stroke-width="0.35" style="" >80</text>
<line x1="43.80" y1="737.57" x2="48.30" y2="737.57" stroke="#1a1a1a" stroke-width="1.2"/>
<text x="26.86" y="741.75" font-size="11" font-weight="bold" text-anchor="start" textLength="10.66" lengthAdjust="spacingAndGlyphs" fill="#000" stroke="#000" stroke-width="0.35" style="" >90</text>
<line x1="43.80" y1="719.10" x2="48.30" y2="719.10" stroke="#1a1a1a" stroke-width="1.2"/>
<text x="21.53" y="723.28" font-size="11" font-weight="bold" text-anchor="start" textLength="15.95" lengthAdjust="spacingAndGlyphs" fill="#000" stroke="#000" stroke-width="0.35" style="" >100</text>
<text transform="translate(9.40,810.40) rotate(-90)" x="0" y="0" font-size="10.5" font-weight="bold" text-anchor="middle" textLength="137.00" lengthAdjust="spacingAndGlyphs" stroke="#000" stroke-width="0.35">Annexin V positive cells (%)</text>
<line x1="48.30" y1="903.80" x2="383.50" y2="903.80" stroke="#1a1a1a" stroke-width="1.2"/>
<line x1="383.50" y1="903.80" x2="383.50" y2="907.30" stroke="#1a1a1a" stroke-width="1.2"/>
<rect x="59.20" y="869.20" width="16.10" height="34.60" fill="#ffffff" stroke="#111" stroke-width="1.0" />
<rect x="75.30" y="882.50" width="15.70" height="21.30" fill="#b6b6b6" stroke="#111" stroke-width="1.0" />
<rect x="91.00" y="743.20" width="16.10" height="160.60" fill="#6c6c6c" stroke="#111" stroke-width="1.0" />
<rect x="107.10" y="734.70" width="16.00" height="169.10" fill="#000000" stroke="#111" stroke-width="1.0" />
<line x1="67.25" y1="867.70" x2="67.25" y2="870.40" stroke="#000" stroke-width="1.1"/>
<line x1="64.25" y1="867.70" x2="70.25" y2="867.70" stroke="#000" stroke-width="1.1"/>
<line x1="64.25" y1="870.40" x2="70.25" y2="870.40" stroke="#000" stroke-width="1.1"/>
<line x1="83.15" y1="878.50" x2="83.15" y2="884.80" stroke="#000" stroke-width="1.1"/>
<line x1="80.15" y1="878.50" x2="86.15" y2="878.50" stroke="#000" stroke-width="1.1"/>
<line x1="80.15" y1="884.80" x2="86.15" y2="884.80" stroke="#000" stroke-width="1.1"/>
<line x1="99.05" y1="737.80" x2="99.05" y2="750.10" stroke="#000" stroke-width="1.1"/>
<line x1="96.05" y1="737.80" x2="102.05" y2="737.80" stroke="#000" stroke-width="1.1"/>
<line x1="96.05" y1="750.10" x2="102.05" y2="750.10" stroke="#000" stroke-width="1.1"/>
<line x1="115.10" y1="730.90" x2="115.10" y2="734.70" stroke="#000" stroke-width="1.1"/>
<line x1="112.10" y1="730.90" x2="118.10" y2="730.90" stroke="#000" stroke-width="1.1"/>
<rect x="137.90" y="831.20" width="15.60" height="72.60" fill="#ffffff" stroke="#111" stroke-width="1.0" />
<rect x="153.50" y="849.80" width="14.90" height="54.00" fill="#b6b6b6" stroke="#111" stroke-width="1.0" />
<rect x="168.40" y="737.60" width="16.70" height="166.20" fill="#6c6c6c" stroke="#111" stroke-width="1.0" />
<rect x="185.10" y="733.70" width="16.00" height="170.10" fill="#000000" stroke="#111" stroke-width="1.0" />
<line x1="145.70" y1="827.60" x2="145.70" y2="835.40" stroke="#000" stroke-width="1.1"/>
<line x1="142.70" y1="827.60" x2="148.70" y2="827.60" stroke="#000" stroke-width="1.1"/>
<line x1="142.70" y1="835.40" x2="148.70" y2="835.40" stroke="#000" stroke-width="1.1"/>
<line x1="160.95" y1="845.80" x2="160.95" y2="852.90" stroke="#000" stroke-width="1.1"/>
<line x1="157.95" y1="845.80" x2="163.95" y2="845.80" stroke="#000" stroke-width="1.1"/>
<line x1="157.95" y1="852.90" x2="163.95" y2="852.90" stroke="#000" stroke-width="1.1"/>
<line x1="176.75" y1="737.20" x2="176.75" y2="738.00" stroke="#000" stroke-width="1.1"/>
<line x1="173.75" y1="737.20" x2="179.75" y2="737.20" stroke="#000" stroke-width="1.1"/>
<line x1="173.75" y1="738.00" x2="179.75" y2="738.00" stroke="#000" stroke-width="1.1"/>
<line x1="193.10" y1="730.70" x2="193.10" y2="733.70" stroke="#000" stroke-width="1.1"/>
<line x1="190.10" y1="730.70" x2="196.10" y2="730.70" stroke="#000" stroke-width="1.1"/>
<rect x="231.40" y="876.60" width="16.00" height="27.20" fill="#ffffff" stroke="#111" stroke-width="1.0" />
<rect x="247.40" y="891.40" width="15.90" height="12.40" fill="#b6b6b6" stroke="#111" stroke-width="1.0" />
<rect x="263.30" y="866.50" width="15.60" height="37.30" fill="#6c6c6c" stroke="#111" stroke-width="1.0" />
<rect x="278.90" y="825.50" width="15.70" height="78.30" fill="#000000" stroke="#111" stroke-width="1.0" />
<line x1="239.40" y1="872.20" x2="239.40" y2="882.60" stroke="#000" stroke-width="1.1"/>
<line x1="236.40" y1="872.20" x2="242.40" y2="872.20" stroke="#000" stroke-width="1.1"/>
<line x1="236.40" y1="882.60" x2="242.40" y2="882.60" stroke="#000" stroke-width="1.1"/>
<line x1="271.10" y1="866.10" x2="271.10" y2="866.90" stroke="#000" stroke-width="1.1"/>
<line x1="268.10" y1="866.10" x2="274.10" y2="866.10" stroke="#000" stroke-width="1.1"/>
<line x1="268.10" y1="866.90" x2="274.10" y2="866.90" stroke="#000" stroke-width="1.1"/>
<line x1="286.75" y1="821.10" x2="286.75" y2="825.50" stroke="#000" stroke-width="1.1"/>
<line x1="283.75" y1="821.10" x2="289.75" y2="821.10" stroke="#000" stroke-width="1.1"/>
<rect x="309.30" y="884.50" width="15.90" height="19.30" fill="#ffffff" stroke="#111" stroke-width="1.0" />
<rect x="325.20" y="893.50" width="16.10" height="10.30" fill="#b6b6b6" stroke="#111" stroke-width="1.0" />
<rect x="341.30" y="845.10" width="15.50" height="58.70" fill="#6c6c6c" stroke="#111" stroke-width="1.0" />
<rect x="356.80" y="787.90" width="16.20" height="115.90" fill="#000000" stroke="#111" stroke-width="1.0" />
<line x1="317.25" y1="882.80" x2="317.25" y2="886.80" stroke="#000" stroke-width="1.1"/>
<line x1="314.25" y1="882.80" x2="320.25" y2="882.80" stroke="#000" stroke-width="1.1"/>
<line x1="314.25" y1="886.80" x2="320.25" y2="886.80" stroke="#000" stroke-width="1.1"/>
<line x1="333.25" y1="891.90" x2="333.25" y2="895.00" stroke="#000" stroke-width="1.1"/>
<line x1="330.25" y1="891.90" x2="336.25" y2="891.90" stroke="#000" stroke-width="1.1"/>
<line x1="330.25" y1="895.00" x2="336.25" y2="895.00" stroke="#000" stroke-width="1.1"/>
<line x1="349.05" y1="843.70" x2="349.05" y2="848.50" stroke="#000" stroke-width="1.1"/>
<line x1="346.05" y1="843.70" x2="352.05" y2="843.70" stroke="#000" stroke-width="1.1"/>
<line x1="346.05" y1="848.50" x2="352.05" y2="848.50" stroke="#000" stroke-width="1.1"/>
<line x1="364.90" y1="777.50" x2="364.90" y2="787.90" stroke="#000" stroke-width="1.1"/>
<line x1="361.90" y1="777.50" x2="367.90" y2="777.50" stroke="#000" stroke-width="1.1"/>
<text x="61.74" y="919.60" font-size="10.6" font-weight="bold" text-anchor="start" textLength="4.72" lengthAdjust="spacingAndGlyphs" fill="#000" stroke="#000" stroke-width="0.35" style="" >1</text>
<text x="79.14" y="919.60" font-size="10.6" font-weight="bold" text-anchor="start" textLength="4.72" lengthAdjust="spacingAndGlyphs" fill="#000" stroke="#000" stroke-width="0.35" style="" >2</text>
<text x="92.94" y="919.60" font-size="10.6" font-weight="bold" text-anchor="start" textLength="4.72" lengthAdjust="spacingAndGlyphs" fill="#000" stroke="#000" stroke-width="0.35" style="" >3</text>
<text x="109.84" y="919.60" font-size="10.6" font-weight="bold" text-anchor="start" textLength="4.72" lengthAdjust="spacingAndGlyphs" fill="#000" stroke="#000" stroke-width="0.35" style="" >4</text>
<text x="140.24" y="919.60" font-size="10.6" font-weight="bold" text-anchor="start" textLength="4.72" lengthAdjust="spacingAndGlyphs" fill="#000" stroke="#000" stroke-width="0.35" style="" >1</text>
<text x="154.14" y="919.60" font-size="10.6" font-weight="bold" text-anchor="start" textLength="4.72" lengthAdjust="spacingAndGlyphs" fill="#000" stroke="#000" stroke-width="0.35" style="" >2</text>
<text x="170.84" y="919.60" font-size="10.6" font-weight="bold" text-anchor="start" textLength="4.72" lengthAdjust="spacingAndGlyphs" fill="#000" stroke="#000" stroke-width="0.35" style="" >3</text>
<text x="187.94" y="919.60" font-size="10.6" font-weight="bold" text-anchor="start" textLength="4.72" lengthAdjust="spacingAndGlyphs" fill="#000" stroke="#000" stroke-width="0.35" style="" >4</text>
<text x="235.84" y="919.60" font-size="10.6" font-weight="bold" text-anchor="start" textLength="4.72" lengthAdjust="spacingAndGlyphs" fill="#000" stroke="#000" stroke-width="0.35" style="" >1</text>
<text x="252.04" y="919.60" font-size="10.6" font-weight="bold" text-anchor="start" textLength="4.72" lengthAdjust="spacingAndGlyphs" fill="#000" stroke="#000" stroke-width="0.35" style="" >2</text>
<text x="268.54" y="919.60" font-size="10.6" font-weight="bold" text-anchor="start" textLength="4.72" lengthAdjust="spacingAndGlyphs" fill="#000" stroke="#000" stroke-width="0.35" style="" >3</text>
<text x="283.04" y="919.60" font-size="10.6" font-weight="bold" text-anchor="start" textLength="4.72" lengthAdjust="spacingAndGlyphs" fill="#000" stroke="#000" stroke-width="0.35" style="" >4</text>
<text x="314.04" y="919.60" font-size="10.6" font-weight="bold" text-anchor="start" textLength="4.72" lengthAdjust="spacingAndGlyphs" fill="#000" stroke="#000" stroke-width="0.35" style="" >1</text>
<text x="330.64" y="919.60" font-size="10.6" font-weight="bold" text-anchor="start" textLength="4.72" lengthAdjust="spacingAndGlyphs" fill="#000" stroke="#000" stroke-width="0.35" style="" >2</text>
<text x="346.54" y="919.60" font-size="10.6" font-weight="bold" text-anchor="start" textLength="4.72" lengthAdjust="spacingAndGlyphs" fill="#000" stroke="#000" stroke-width="0.35" style="" >3</text>
<text x="360.74" y="919.60" font-size="10.6" font-weight="bold" text-anchor="start" textLength="4.72" lengthAdjust="spacingAndGlyphs" fill="#000" stroke="#000" stroke-width="0.35" style="" >4</text>
<text x="51.70" y="691.30" font-size="10.8" font-weight="bold" text-anchor="start" textLength="39.57" lengthAdjust="spacingAndGlyphs" fill="#000" stroke="#000" stroke-width="0.35" style="" >MOLM13</text>
<text x="119.30" y="691.30" font-size="10.8" font-weight="bold" text-anchor="start" textLength="29.60" lengthAdjust="spacingAndGlyphs" fill="#000" stroke="#000" stroke-width="0.35" style="" >- MS-5</text>
<text x="285.90" y="689.00" font-size="10.8" font-weight="bold" text-anchor="start" textLength="32.21" lengthAdjust="spacingAndGlyphs" fill="#000" stroke="#000" stroke-width="0.35" style="" >+ MS-5</text>
<line x1="57.00" y1="697.20" x2="209.60" y2="697.20" stroke="#1a1a1a" stroke-width="1.3"/>
<line x1="228.50" y1="697.20" x2="380.00" y2="697.20" stroke="#1a1a1a" stroke-width="1.3"/>
<text x="65.30" y="715.80" font-size="10.3" font-weight="bold" text-anchor="start" textLength="43.73" lengthAdjust="spacingAndGlyphs" fill="#000" stroke="#000" stroke-width="0.35" style="" >Normoxia</text>
<text x="150.80" y="715.80" font-size="10.3" font-weight="bold" text-anchor="start" textLength="35.61" lengthAdjust="spacingAndGlyphs" fill="#000" stroke="#000" stroke-width="0.35" style="" >Hypoxia</text>
<text x="248.00" y="715.80" font-size="10.3" font-weight="bold" text-anchor="start" textLength="43.83" lengthAdjust="spacingAndGlyphs" fill="#000" stroke="#000" stroke-width="0.35" style="" >Normoxia</text>
<text x="327.00" y="715.80" font-size="10.3" font-weight="bold" text-anchor="start" textLength="36.65" lengthAdjust="spacingAndGlyphs" fill="#000" stroke="#000" stroke-width="0.35" style="" >Hypoxia</text>
<line x1="57.00" y1="721.80" x2="124.60" y2="721.80" stroke="#1a1a1a" stroke-width="1.3"/>
<line x1="136.50" y1="721.80" x2="209.60" y2="721.80" stroke="#1a1a1a" stroke-width="1.3"/>
<line x1="228.50" y1="721.80" x2="301.25" y2="721.80" stroke="#1a1a1a" stroke-width="1.3"/>
<line x1="313.75" y1="721.80" x2="386.25" y2="721.80" stroke="#1a1a1a" stroke-width="1.3"/>
<text x="302.50" y="739.80" font-size="13" font-weight="bold" text-anchor="start" textLength="42.98" lengthAdjust="spacingAndGlyphs" fill="#000" stroke="#000" stroke-width="0.2" style="" ><tspan font-style="italic">P</tspan> = .02</text>
<path d="M289.3,765.8 L289.3,741.8 L368.2,741.8 L368.2,753.7" stroke="#1a1a1a" stroke-width="1.1" fill="none" stroke-linejoin="miter"/>
<text x="327.00" y="764.40" font-size="13" font-weight="bold" text-anchor="start" textLength="49.66" lengthAdjust="spacingAndGlyphs" fill="#000" stroke="#000" stroke-width="0.2" style="" ><tspan font-style="italic">P</tspan> = .008</text>
<path d="M343.8,796.5 L343.8,766.5 L368.2,766.5 L368.2,777.5" stroke="#1a1a1a" stroke-width="1.1" fill="none" stroke-linejoin="miter"/>
<text x="245.50" y="801.00" font-size="13" font-weight="bold" text-anchor="start" textLength="51.23" lengthAdjust="spacingAndGlyphs" fill="#000" stroke="#000" stroke-width="0.2" style="" ><tspan font-style="italic">P</tspan> = .004</text>
<path d="M263.5,833 L263.5,803.5 L288.6,803.5 L288.6,818.6" stroke="#1a1a1a" stroke-width="1.1" fill="none" stroke-linejoin="miter"/>
<text x="411.30" y="739.70" font-size="10.8" font-weight="normal" text-anchor="start" textLength="40.31" lengthAdjust="spacingAndGlyphs" fill="#000" stroke="#000" stroke-width="0.2" style="" >1.Control</text>
<text x="411.30" y="754.30" font-size="10.8" font-weight="normal" text-anchor="start" textLength="52.47" lengthAdjust="spacingAndGlyphs" fill="#000" stroke="#000" stroke-width="0.2" style="" >2.AMD3465</text>
<text x="411.30" y="768.60" font-size="10.8" font-weight="normal" text-anchor="start" textLength="85.05" lengthAdjust="spacingAndGlyphs" fill="#000" stroke="#000" stroke-width="0.2" style="" >3.Sorafenib (10nM)</text>
<text x="411.30" y="782.70" font-size="10.8" font-weight="normal" text-anchor="start" textLength="109.21" lengthAdjust="spacingAndGlyphs" fill="#000" stroke="#000" stroke-width="0.2" style="" >4.AMD3465 + Sorafenib</text>
<text x="0.20" y="964.60" font-size="24.5" font-weight="bold" text-anchor="start" fill="#000" stroke="#000" stroke-width="0.35" style="" >D</text>
<text x="58.00" y="964.00" font-size="10.2" font-weight="bold" text-anchor="start" textLength="159.00" lengthAdjust="spacingAndGlyphs" fill="#000" stroke="#000" stroke-width="0.35" style="" >primary AML with FLT3-ITD (n = 7)</text>
<line x1="51.30" y1="980.20" x2="51.30" y2="1163.10" stroke="#1a1a1a" stroke-width="1.3"/>
<line x1="46.50" y1="1159.60" x2="51.30" y2="1159.60" stroke="#1a1a1a" stroke-width="1.2"/>
<text x="34.02" y="1163.69" font-size="11.3" font-weight="bold" text-anchor="start" textLength="5.74" lengthAdjust="spacingAndGlyphs" fill="#000" stroke="#000" stroke-width="0.35" style="" >0</text>
<line x1="46.50" y1="1137.17" x2="51.30" y2="1137.17" stroke="#1a1a1a" stroke-width="1.2"/>
<text x="34.02" y="1141.26" font-size="11.3" font-weight="bold" text-anchor="start" textLength="5.74" lengthAdjust="spacingAndGlyphs" fill="#000" stroke="#000" stroke-width="0.35" style="" >5</text>
<line x1="46.50" y1="1114.75" x2="51.30" y2="1114.75" stroke="#1a1a1a" stroke-width="1.2"/>
<text x="28.24" y="1118.84" font-size="11.3" font-weight="bold" text-anchor="start" textLength="11.59" lengthAdjust="spacingAndGlyphs" fill="#000" stroke="#000" stroke-width="0.35" style="" >10</text>
<line x1="46.50" y1="1092.33" x2="51.30" y2="1092.33" stroke="#1a1a1a" stroke-width="1.2"/>
<text x="28.24" y="1096.41" font-size="11.3" font-weight="bold" text-anchor="start" textLength="11.59" lengthAdjust="spacingAndGlyphs" fill="#000" stroke="#000" stroke-width="0.35" style="" >15</text>
<line x1="46.50" y1="1069.90" x2="51.30" y2="1069.90" stroke="#1a1a1a" stroke-width="1.2"/>
<text x="28.24" y="1073.99" font-size="11.3" font-weight="bold" text-anchor="start" textLength="11.59" lengthAdjust="spacingAndGlyphs" fill="#000" stroke="#000" stroke-width="0.35" style="" >20</text>
<line x1="46.50" y1="1047.47" x2="51.30" y2="1047.47" stroke="#1a1a1a" stroke-width="1.2"/>
<text x="28.24" y="1051.56" font-size="11.3" font-weight="bold" text-anchor="start" textLength="11.59" lengthAdjust="spacingAndGlyphs" fill="#000" stroke="#000" stroke-width="0.35" style="" >25</text>
<line x1="46.50" y1="1025.05" x2="51.30" y2="1025.05" stroke="#1a1a1a" stroke-width="1.2"/>
<text x="28.24" y="1029.14" font-size="11.3" font-weight="bold" text-anchor="start" textLength="11.59" lengthAdjust="spacingAndGlyphs" fill="#000" stroke="#000" stroke-width="0.35" style="" >30</text>
<line x1="46.50" y1="1002.62" x2="51.30" y2="1002.62" stroke="#1a1a1a" stroke-width="1.2"/>
<text x="28.24" y="1006.71" font-size="11.3" font-weight="bold" text-anchor="start" textLength="11.59" lengthAdjust="spacingAndGlyphs" fill="#000" stroke="#000" stroke-width="0.35" style="" >35</text>
<line x1="46.50" y1="980.20" x2="51.30" y2="980.20" stroke="#1a1a1a" stroke-width="1.2"/>
<text x="28.24" y="984.29" font-size="11.3" font-weight="bold" text-anchor="start" textLength="11.59" lengthAdjust="spacingAndGlyphs" fill="#000" stroke="#000" stroke-width="0.35" style="" >40</text>
<text transform="translate(13.00,1058.00) rotate(-90)" x="0" y="0" font-size="10.5" font-weight="bold" text-anchor="middle" textLength="105.50" lengthAdjust="spacingAndGlyphs" stroke="#000" stroke-width="0.35">Specific apoptosis (%)</text>
<line x1="51.30" y1="1159.60" x2="250.00" y2="1159.60" stroke="#1a1a1a" stroke-width="1.2"/>
<line x1="250.00" y1="1159.60" x2="250.00" y2="1163.10" stroke="#1a1a1a" stroke-width="1.2"/>
<rect x="68.60" y="1158.20" width="23.80" height="1.40" fill="#ffffff" stroke="#111" stroke-width="1.0" />
<rect x="92.40" y="1057.70" width="22.80" height="101.90" fill="#848484" stroke="#111" stroke-width="1.0" />
<rect x="115.20" y="1077.20" width="23.60" height="82.40" fill="#000000" stroke="#111" stroke-width="1.0" />
<line x1="80.50" y1="1112.00" x2="80.50" y2="1158.20" stroke="#333" stroke-width="1.1"/>
<line x1="77.75" y1="1112.00" x2="83.25" y2="1112.00" stroke="#333" stroke-width="1.1"/>
<line x1="103.80" y1="1027.20" x2="103.80" y2="1057.70" stroke="#333" stroke-width="1.1"/>
<line x1="101.05" y1="1027.20" x2="106.55" y2="1027.20" stroke="#333" stroke-width="1.1"/>
<line x1="126.90" y1="1062.30" x2="126.90" y2="1077.20" stroke="#333" stroke-width="1.1"/>
<line x1="124.15" y1="1062.30" x2="129.65" y2="1062.30" stroke="#333" stroke-width="1.1"/>
<rect x="161.00" y="1132.60" width="24.00" height="27.00" fill="#ffffff" stroke="#111" stroke-width="1.0" />
<rect x="185.00" y="1086.20" width="23.10" height="73.40" fill="#848484" stroke="#111" stroke-width="1.0" />
<rect x="208.10" y="1022.90" width="24.00" height="136.70" fill="#000000" stroke="#111" stroke-width="1.0" />
<line x1="173.20" y1="1106.70" x2="173.20" y2="1132.60" stroke="#333" stroke-width="1.1"/>
<line x1="170.45" y1="1106.70" x2="175.95" y2="1106.70" stroke="#333" stroke-width="1.1"/>
<line x1="197.20" y1="1055.60" x2="197.20" y2="1086.20" stroke="#333" stroke-width="1.1"/>
<line x1="194.45" y1="1055.60" x2="199.95" y2="1055.60" stroke="#333" stroke-width="1.1"/>
<line x1="219.90" y1="990.70" x2="219.90" y2="1022.90" stroke="#333" stroke-width="1.1"/>
<line x1="217.15" y1="990.70" x2="222.65" y2="990.70" stroke="#333" stroke-width="1.1"/>
<text x="74.35" y="1174.30" font-size="11" font-weight="bold" text-anchor="start" textLength="4.89" lengthAdjust="spacingAndGlyphs" fill="#000" stroke="#000" stroke-width="0.35" style="" >1</text>
<text x="96.75" y="1174.30" font-size="11" font-weight="bold" text-anchor="start" textLength="4.89" lengthAdjust="spacingAndGlyphs" fill="#000" stroke="#000" stroke-width="0.35" style="" >2</text>
<text x="121.35" y="1174.30" font-size="11" font-weight="bold" text-anchor="start" textLength="4.89" lengthAdjust="spacingAndGlyphs" fill="#000" stroke="#000" stroke-width="0.35" style="" >3</text>
<text x="168.55" y="1174.30" font-size="11" font-weight="bold" text-anchor="start" textLength="4.89" lengthAdjust="spacingAndGlyphs" fill="#000" stroke="#000" stroke-width="0.35" style="" >1</text>
<text x="193.75" y="1174.30" font-size="11" font-weight="bold" text-anchor="start" textLength="4.89" lengthAdjust="spacingAndGlyphs" fill="#000" stroke="#000" stroke-width="0.35" style="" >2</text>
<text x="221.75" y="1174.30" font-size="11" font-weight="bold" text-anchor="start" textLength="4.89" lengthAdjust="spacingAndGlyphs" fill="#000" stroke="#000" stroke-width="0.35" style="" >3</text>
<line x1="68.75" y1="988.75" x2="142.50" y2="988.75" stroke="#1a1a1a" stroke-width="1.3"/>
<text x="97.30" y="988.00" font-size="11.2" font-weight="bold" text-anchor="start" textLength="30.50" lengthAdjust="spacingAndGlyphs" fill="#000" stroke="#000" stroke-width="0.35" style="" >- MS-5</text>
<line x1="160.00" y1="990.00" x2="233.25" y2="990.00" stroke="#1a1a1a" stroke-width="1.3"/>
<text x="183.75" y="989.00" font-size="11.2" font-weight="bold" text-anchor="start" textLength="32.51" lengthAdjust="spacingAndGlyphs" fill="#000" stroke="#000" stroke-width="0.35" style="" >+ MS-5</text>
<text x="168.75" y="1003.00" font-size="13" font-weight="bold" text-anchor="start" textLength="50.06" lengthAdjust="spacingAndGlyphs" fill="#000" stroke="#000" stroke-width="0.2" style="" ><tspan font-style="italic">P</tspan> = .009</text>
<path d="M198.5,1032.5 L198.5,1008.8 L223,1008.8 L223,1020" stroke="#1a1a1a" stroke-width="1.1" fill="none" stroke-linejoin="miter"/>
<text x="259.30" y="1006.60" font-size="10.6" font-weight="normal" text-anchor="start" textLength="51.77" lengthAdjust="spacingAndGlyphs" fill="#000" stroke="#000" stroke-width="0.2" style="" >1.AMD3465</text>
<text x="259.30" y="1020.80" font-size="10.6" font-weight="normal" text-anchor="start" textLength="83.92" lengthAdjust="spacingAndGlyphs" fill="#000" stroke="#000" stroke-width="0.2" style="" >2.Sorafenib (10nM)</text>
<text x="259.30" y="1035.10" font-size="10.6" font-weight="normal" text-anchor="start" textLength="104.92" lengthAdjust="spacingAndGlyphs" fill="#000" stroke="#000" stroke-width="0.2" style="" >3.AMD3465 + Sorafenib</text>
</svg></body></html>
